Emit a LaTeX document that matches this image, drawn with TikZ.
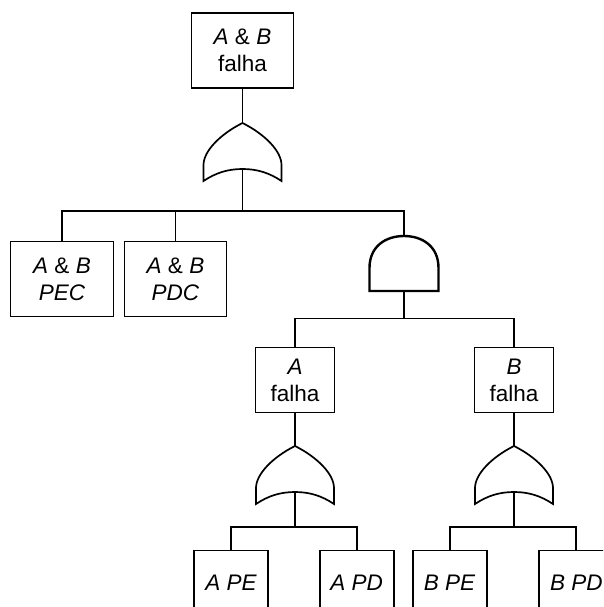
\documentclass[tikz,border=0pt]{standalone}
\usepackage{fontspec}
\setmainfont{Liberation Sans}
\begin{document}
\begin{tikzpicture}[x=1pt,y=-1pt,
  line width=1.7pt,
  every node/.style={font=\fontsize{22.5}{27}\selectfont},
  event/.style={draw, align=center, inner sep=0pt, line width=1.7pt},
  bigbox/.style={event, minimum width=102pt, minimum height=75pt},
  midbox/.style={event, minimum width=79pt, minimum height=65pt},
  leafbox/.style={event, minimum width=74pt, minimum height=64pt},
  orgate/.pic={
    \draw[line width=1.7pt] (0,0) .. controls (-22,11) and (-39,28) .. (-39,42)
      -- (-39,58) .. controls (-27,50) and (-15,46) .. (0,46)
      .. controls (15,46) and (27,50) .. (39,58) -- (39,42)
      .. controls (39,28) and (22,11) .. (0,0) -- cycle;
    \coordinate (-top) at (0,0);
    \coordinate (-bot) at (0,46);
  },
  andgate/.pic={
    \draw[line width=2.4pt] (-34.5,55) -- (-34.5,32)
      .. controls (-34.5,10) and (-18,0) .. (0,0)
      .. controls (18,0) and (34.5,10) .. (34.5,32) -- (34.5,55) -- cycle;
    \coordinate (-top) at (0,0);
    \coordinate (-bot) at (0,55);
  }]
\path[use as bounding box, clip] (0,0) rectangle (603,607);

% events
\node[bigbox] (top) at (242.5,50.5) {\textit{A} \& \textit{B}\\falha};
\node[bigbox, minimum width=103pt] (pec) at (62,279) {\textit{A} \& \textit{B}\\\textit{PEC}};
\node[bigbox] (pdc) at (175.5,279) {\textit{A} \& \textit{B}\\\textit{PDC}};
\node[midbox] (af) at (295,380) {\textit{A}\\falha};
\node[midbox] (bf) at (514,380) {\textit{B}\\falha};
\node[leafbox] (ape) at (231,582.5) {\textit{A PE}};
\node[leafbox] (apd) at (356.7,582.5) {\textit{A PD}};
\node[leafbox] (bpe) at (449.7,582.5) {\textit{B PE}};
\node[leafbox] (bpd) at (576.3,582.5) {\textit{B PD}};

% gates
\pic (g1) at (242.5,123) {orgate};
\pic (g2) at (404,236) {andgate};
\pic (ga) at (295,446) {orgate};
\pic (gb) at (514,446) {orgate};

% bus heights
\coordinate (bus1) at (0,211);
\coordinate (bus2) at (0,318.5);
\coordinate (bus3) at (0,526.7);

% connectors
\draw (top.south) -- (g1-top);
\draw (g1-bot) -- (g1-bot |- bus1);
\draw (pec.north) -- (pec.north |- bus1) -- (g2-top |- bus1) -- (g2-top);
\draw (pdc.north) -- (pdc.north |- bus1);

\draw (g2-bot) -- (g2-bot |- bus2);
\draw (af.north) -- (af.north |- bus2) -- (bf.north |- bus2) -- (bf.north);

\draw (af.south) -- (ga-top);
\draw (ga-bot) -- (ga-bot |- bus3);
\draw (ape.north) -- (ape.north |- bus3) -- (apd.north |- bus3) -- (apd.north);

\draw (bf.south) -- (gb-top);
\draw (gb-bot) -- (gb-bot |- bus3);
\draw (bpe.north) -- (bpe.north |- bus3) -- (bpd.north |- bus3) -- (bpd.north);
\end{tikzpicture}
\end{document}
